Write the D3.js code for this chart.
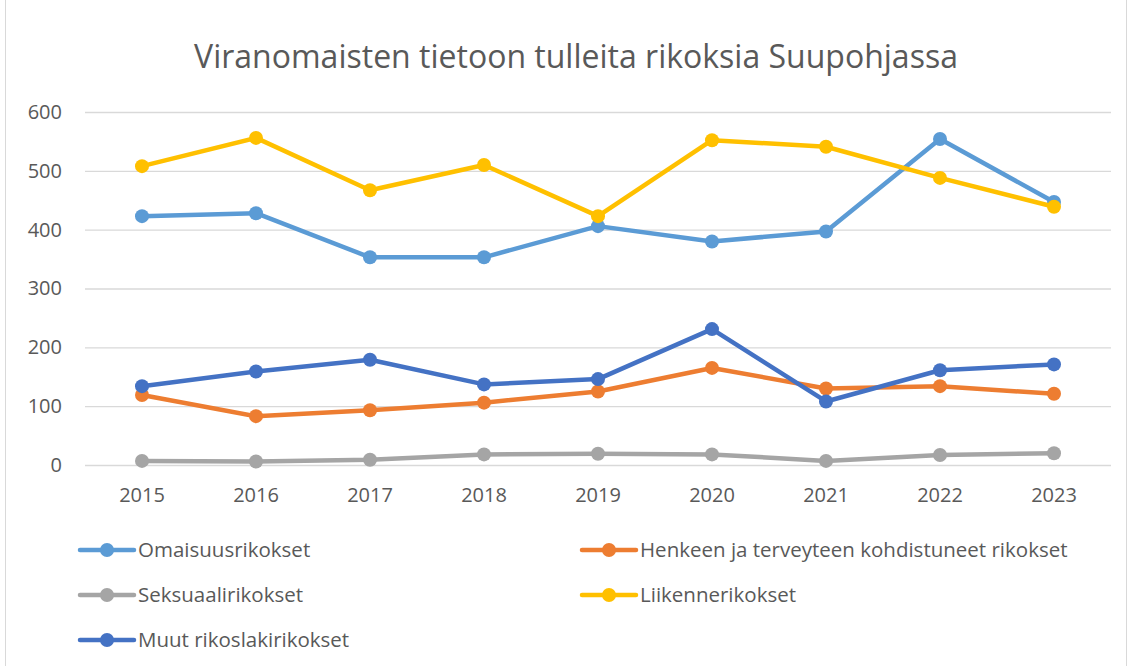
<!DOCTYPE html>
<html>
<head>
<meta charset="utf-8">
<script src="https://cdn.jsdelivr.net/npm/d3@7"></script>
<style>
  body { margin: 0; background: #fff; }
  svg { display: block; font-family: "Open Sans", "Liberation Sans", sans-serif; }
</style>
</head>
<body>
<div id="chart"></div>
<script>
var years = ["2015", "2016", "2017", "2018", "2019", "2020", "2021", "2022", "2023"];
var yTicks = [0, 100, 200, 300, 400, 500, 600];

var omaisuus = [423, 428, 353, 353, 406, 380, 397, 554, 447];
var henkeen = [119, 83, 93, 106, 125, 165, 130, 134, 121];
var seksuaali = [7, 6, 9, 18, 19, 18, 7, 17, 20];
var liikenne = [508, 556, 467, 510, 423, 552, 541, 488, 439];
var muut = [134, 159, 179, 137, 146, 231, 108, 161, 171];

var seriesNames = ["Omaisuusrikokset", "Henkeen ja terveyteen kohdistuneet rikokset",
                   "Seksuaalirikokset", "Liikennerikokset", "Muut rikoslakirikokset"];
var seriesColors = ["#5b9bd5", "#ed7d31", "#a5a5a5", "#ffc000", "#4472c4"];

var series = [omaisuus, henkeen, seksuaali, liikenne, muut].map(function(v, i) {
    return { name: seriesNames[i], color: seriesColors[i], values: v };
});

var W = 1132, H = 666;
var margin = {top: 112, right: 21, bottom: 201, left: 85};
var width = W - margin.left - margin.right,
    height = H - margin.top - margin.bottom;

var svg = d3.select("#chart")
  .append("svg")
    .attr("width", W)
    .attr("height", H);

// chart frame
svg.append("rect")
    .attr("x", 5.5).attr("y", -1)
    .attr("width", W - 11).attr("height", H + 2)
    .attr("fill", "#fff")
    .attr("stroke", "#d9d9d9");

svg.append("text")
    .attr("x", 576)
    .attr("y", 68)
    .attr("text-anchor", "middle")
    .attr("fill", "#595959")
    .style("font-size", "32px")
    .text("Viranomaisten tietoon tulleita rikoksia Suupohjassa");

var g = svg.append("g")
    .attr("transform", "translate(" + margin.left + "," + margin.top + ")");

var x = d3.scaleBand()
    .domain(years)
    .range([0, width]);

var y = d3.scaleLinear()
    .domain([0, 600])
    .range([height, 0]);

// gridlines
g.append("g")
  .call(d3.axisLeft(y).tickValues(yTicks).tickSize(-width).tickFormat(""))
  .call(function(a) {
      a.select(".domain").remove();
      a.selectAll("line").attr("stroke", "#d9d9d9").attr("stroke-width", 1.3);
  });

// y labels
g.append("g")
  .call(d3.axisLeft(y).tickValues(yTicks).tickSize(0).tickPadding(23))
  .attr("font-family", null)
  .call(function(a) {
      a.select(".domain").remove();
      a.selectAll("text").attr("fill", "#595959").style("font-size", "20px");
  });

// x labels
g.append("g")
  .attr("transform", "translate(0," + height + ")")
  .call(d3.axisBottom(x).tickSize(0).tickPadding(23))
  .attr("font-family", null)
  .call(function(a) {
      a.select(".domain").remove();
      a.selectAll("text").attr("fill", "#595959").style("font-size", "20px");
  });

var line = d3.line()
    .x(function(d, i) { return x(years[i]) + x.bandwidth() / 2; })
    .y(function(d) { return y(d); });

series.forEach(function(s) {
    g.append("path")
      .datum(s.values)
      .attr("fill", "none")
      .attr("stroke", s.color)
      .attr("stroke-width", 4.5)
      .attr("stroke-linejoin", "round")
      .attr("stroke-linecap", "round")
      .attr("d", line);

    g.selectAll(null)
      .data(s.values)
      .enter()
      .append("circle")
      .attr("cx", function(d, i) { return x(years[i]) + x.bandwidth() / 2; })
      .attr("cy", function(d) { return y(d); })
      .attr("r", 7)
      .attr("fill", s.color);
});

// legend
var legend = svg.append("g");
series.forEach(function(s, i) {
    var lx = (i % 2 === 0) ? 80 : 582;
    var ly = 550 + Math.floor(i / 2) * 45;
    var item = legend.append("g").attr("transform", "translate(" + lx + "," + ly + ")");
    item.append("line")
      .attr("x1", 0).attr("x2", 54)
      .attr("y1", 0).attr("y2", 0)
      .attr("stroke", s.color)
      .attr("stroke-width", 4.5)
      .attr("stroke-linecap", "round");
    item.append("circle")
      .attr("cx", 27).attr("cy", 0).attr("r", 7)
      .attr("fill", s.color);
    item.append("text")
      .attr("x", 58)
      .attr("y", 7)
      .attr("fill", "#595959")
      .style("font-size", "20.5px")
      .text(s.name);
});
</script>
</body>
</html>
